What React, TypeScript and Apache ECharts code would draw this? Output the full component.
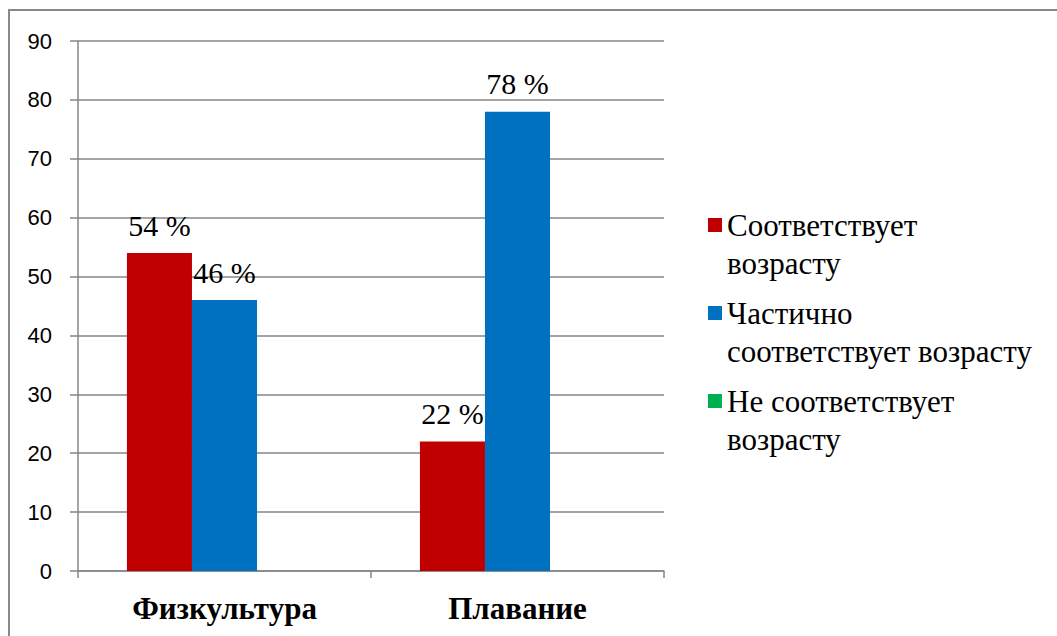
import React, { useEffect, useRef } from "react";
import * as echarts from "echarts";

const categories = ["Физкультура", "Плавание"];
const seriesNames = [
  "Соответствует возрасту",
  "Частично соответствует возрасту",
  "Не соответствует возрасту",
];
const legendLabels = [
  "Соответствует\nвозрасту",
  "Частично\nсоответствует возрасту",
  "Не соответствует\nвозрасту",
];
const matches = [54, 22];
const partlyMatches = [46, 78];
const notMatches: (number | null)[] = [null, null];
const yTicks = [0, 10, 20, 30, 40, 50, 60, 70, 80, 90];
const colors = ["#C00000", "#0070C0", "#00B050"];

export default function App() {
  const ref = useRef<HTMLDivElement>(null);
  useEffect(() => {
    if (!ref.current) return;
    const chart = echarts.init(ref.current, null, { renderer: "svg" });
    const serif = "'Liberation Serif', 'Times New Roman', 'DejaVu Serif', serif";
    const label = {
      show: true,
      position: "top",
      distance: 13,
      formatter: (p: any) => `${p.value} %`,
      fontFamily: serif,
      fontSize: 30,
      color: "#000",
    };
    const values = [matches, partlyMatches, notMatches];
    chart.setOption({
      animation: false,
      textStyle: { fontFamily: serif },
      graphic: [
        {
          type: "rect",
          shape: { x: 9, y: 10, width: 1060, height: 640 },
          style: { fill: "none", stroke: "#898989", lineWidth: 2 },
          silent: true,
        },
      ],
      grid: { left: 78, top: 41, right: 393, bottom: 65, containLabel: false },
      legend: {
        orient: "vertical",
        left: 708,
        top: 168,
        padding: 0,
        itemGap: -26,
        itemWidth: 14,
        itemHeight: 14,
        icon: "rect",
        data: seriesNames,
        formatter: (name: string) => "\n" + legendLabels[seriesNames.indexOf(name)],
        textStyle: {
          fontFamily: serif,
          fontSize: 31,
          lineHeight: 38,
          color: "#000",
        },
      },
      xAxis: {
        type: "category",
        data: categories,
        axisLine: { lineStyle: { color: "#868686", width: 1.5 } },
        axisTick: { show: true, length: 7, lineStyle: { color: "#868686", width: 1.5 } },
        axisLabel: {
          margin: 22,
          fontFamily: serif,
          fontWeight: "bold",
          fontSize: 31,
          color: "#000",
        },
      },
      yAxis: {
        type: "value",
        min: yTicks[0],
        max: yTicks[yTicks.length - 1],
        interval: 10,
        axisLine: { show: true, lineStyle: { color: "#868686", width: 1.5 } },
        axisTick: { show: true, length: 8, lineStyle: { color: "#868686", width: 1.5 } },
        splitLine: { lineStyle: { color: "#868686", width: 1.5 } },
        axisLabel: {
          margin: 26,
          fontFamily: "'Liberation Sans', Arial, sans-serif",
          fontSize: 22,
          color: "#000",
        },
      },
      series: seriesNames.map((name, i) => ({
        name,
        type: "bar",
        data: values[i],
        barGap: "0%",
        barCategoryGap: "33.4%",
        itemStyle: { color: colors[i] },
        label,
      })),
    });
    return () => chart.dispose();
  }, []);
  return (
    <div
      ref={ref}
      style={{ position: "absolute", left: 0, top: 0, width: 1057, height: 636 }}
    />
  );
}
